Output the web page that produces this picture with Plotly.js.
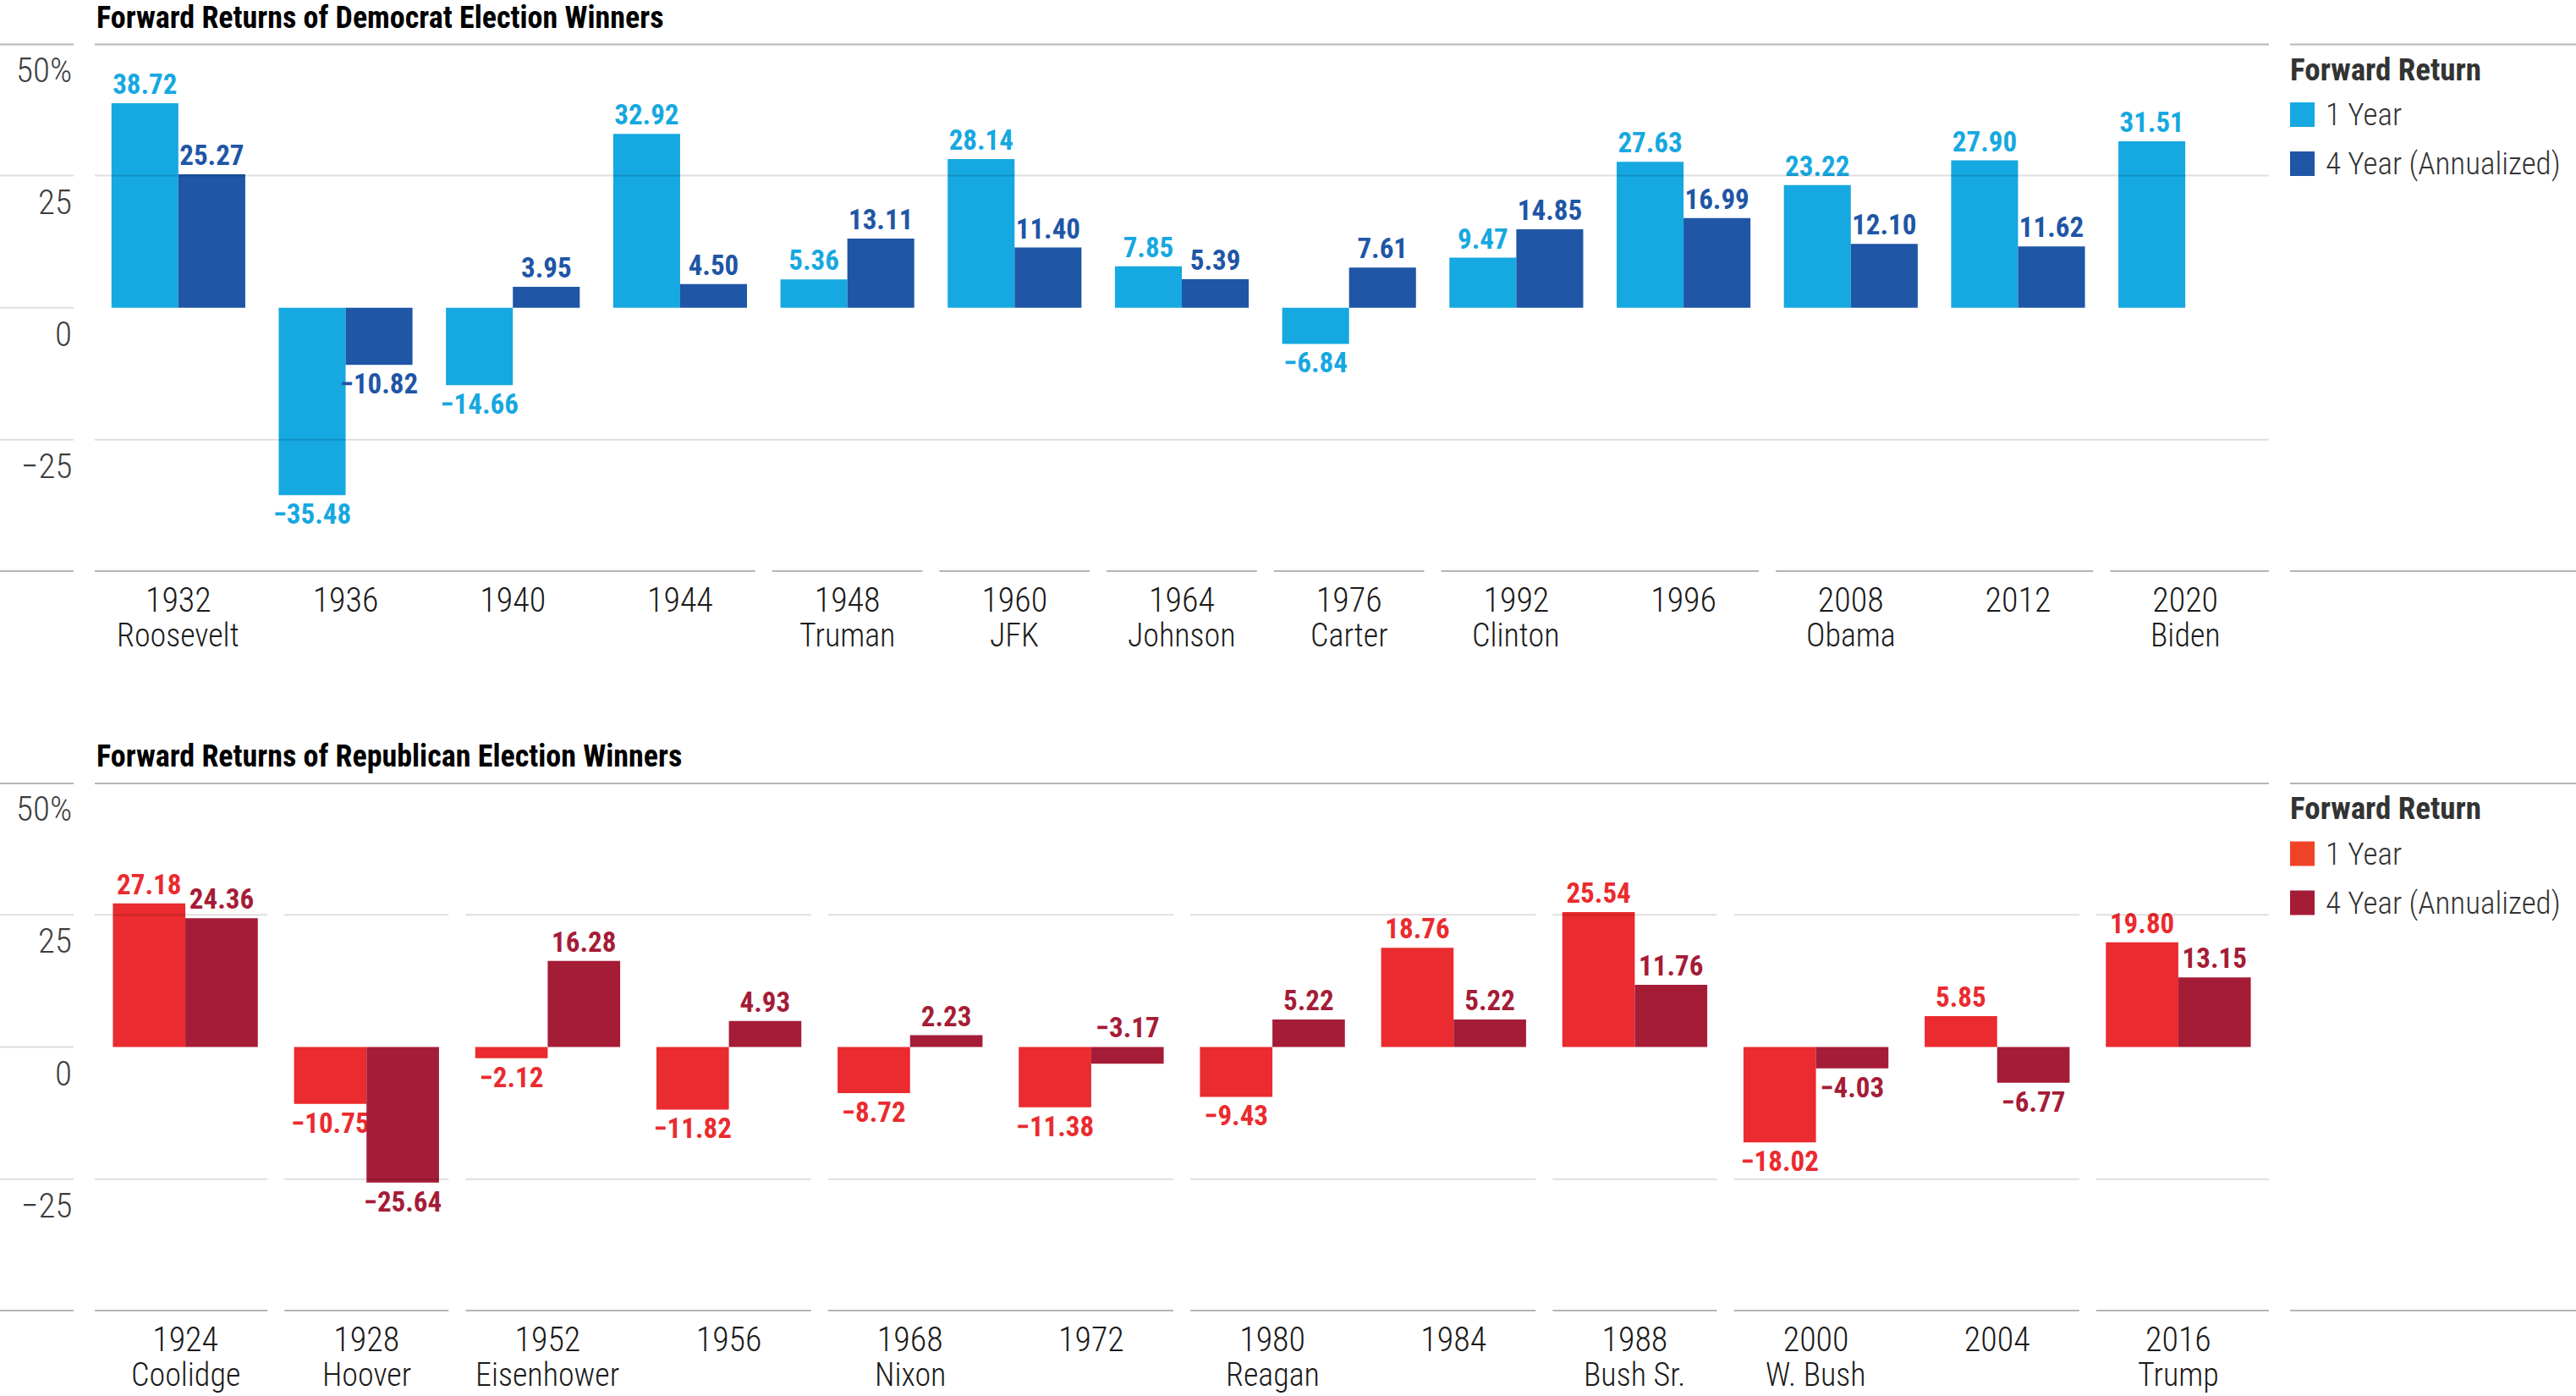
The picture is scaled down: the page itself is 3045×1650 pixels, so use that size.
<!DOCTYPE html>
<html>
<head>
<meta charset="utf-8">
<script src="https://cdn.plot.ly/plotly-3.0.1.min.js"></script>
<style>
html,body{margin:0;padding:0;background:#fff;}
#chart{width:3045px;height:1650px;}
</style>
</head>
<body>
<div id="chart"></div>
<script>
// ---------------- DATA ----------------
const demYears = ['1932','1936','1940','1944','1948','1960','1964','1976','1992','1996','2008','2012','2020'];
const demPresidents = ['Roosevelt','Roosevelt','Roosevelt','Roosevelt','Truman','JFK','Johnson','Carter','Clinton','Clinton','Obama','Obama','Biden'];
const demOneYear = [38.72,-35.48,-14.66,32.92,5.36,28.14,7.85,-6.84,9.47,27.63,23.22,27.90,31.51];
const demFourYear = [25.27,-10.82,3.95,4.50,13.11,11.40,5.39,7.61,14.85,16.99,12.10,11.62,null];

const repYears = ['1924','1928','1952','1956','1968','1972','1980','1984','1988','2000','2004','2016'];
const repPresidents = ['Coolidge','Hoover','Eisenhower','Eisenhower','Nixon','Nixon','Reagan','Reagan','Bush Sr.','W. Bush','W. Bush','Trump'];
const repOneYear = [27.18,-10.75,-2.12,-11.82,-8.72,-11.38,-9.43,18.76,25.54,-18.02,5.85,19.80];
const repFourYear = [24.36,-25.64,16.28,4.93,2.23,-3.17,5.22,5.22,11.76,-4.03,-6.77,13.15];
const repFourYearLabelAbove = ['1972'];   // label drawn above the zero edge in the original

const yTickVals = [50,25,0,-25];
const yTickText = ['50%','25','0','\u221225'];
const seriesNames = ['1 Year','4 Year (Annualized)'];
const legendTitle = 'Forward Return';
const titles = ['Forward Returns of Democrat Election Winners','Forward Returns of Republican Election Winners'];

// ---------------- STYLE ----------------
const W = 3045, H = 1650;
const FONT = "'Roboto Condensed', 'Open Sans', sans-serif";
const plotL = 112, plotR = 2682, labelR = 87, legL = 2707;
const panels = [{y0: 51.5, y1: 676}, {y0: 925, y1: 1550}];
const demColors = ['#16a8e0', '#1f56a6'];
const repColors = ['#ea2b2f', '#a51c37'];
const repLegendColors = ['#ef4327', '#a51c37'];
const thickColor = '#b4b5b9';
const gridColor = 'rgba(0,0,0,0.13)';
const LABEL_SIZE = 33;

const fmt = v => v === null ? '' : (v < 0 ? '\u2212' : '') + Math.abs(v).toFixed(2);
const isGroupStart = (pres, i) => i === 0 || pres[i] !== pres[i-1];
const py = px => 1 - px / H;
const pxX = px => px / W;

function barTrace(x, y, color, name, xa, ya, textArr) {
  return {
    type: 'bar', x: x, y: y, name: name, xaxis: xa, yaxis: ya,
    marker: {color: color, line: {width: 0}},
    text: textArr || y.map(fmt), textposition: 'outside', textangle: 0,
    constraintext: 'none', cliponaxis: false,
    textfont: {family: FONT, size: LABEL_SIZE, color: color, weight: 'bold'},
    outsidetextfont: {family: FONT, size: LABEL_SIZE, color: color, weight: 'bold'},
    hoverinfo: 'x+y', showlegend: false
  };
}

const rep4Text = repFourYear.map((v, i) => repFourYearLabelAbove.includes(repYears[i]) ? '' : fmt(v));

const data = [
  barTrace(demYears, demOneYear, demColors[0], seriesNames[0], 'x', 'y'),
  barTrace(demYears, demFourYear, demColors[1], seriesNames[1], 'x', 'y'),
  barTrace(repYears, repOneYear, repColors[0], seriesNames[0], 'x2', 'y2'),
  barTrace(repYears, repFourYear, repColors[1], seriesNames[1], 'x2', 'y2', rep4Text)
];

const shapes = [];
const annotations = [];
function hline(xref, x0, x1, yref, y, width, color, layer) {
  shapes.push({type: 'line', xref: xref, yref: yref, x0: x0, x1: x1, y0: y, y1: y,
    line: {color: color, width: width}, layer: layer || 'above'});
}
function segments(pres, xref, yref, y, width, color) {
  const n = pres.length;
  const catPx = (plotR - plotL) / n;
  const gap = 10 / catPx;
  let start = 0;
  for (let i = 0; i < n; i++) {
    if (i === n - 1 || pres[i+1] !== pres[i]) {
      const a = start - 0.5 + (start === 0 ? 0 : gap);
      const b = i + 0.5 - (i === n - 1 ? 0 : gap);
      hline(xref, a, b, yref, y, width, color);
      start = i + 1;
    }
  }
}

const panelDefs = [
  {xa: 'x', ya: 'y', pres: demPresidents, n: demYears.length, segGrid: false, legendColors: demColors},
  {xa: 'x2', ya: 'y2', pres: repPresidents, n: repYears.length, segGrid: true, legendColors: repLegendColors}
];

panelDefs.forEach((p, k) => {
  const n = p.n;
  const py0 = panels[k].y0, py1 = panels[k].y1;
  // top thick line (continuous)
  hline(p.xa, -0.5, n - 0.5, p.ya, 50, 4, thickColor);
  hline('paper', 0, pxX(labelR), p.ya, 50, 4, thickColor);
  hline('paper', pxX(legL), 1, p.ya, 50, 4, thickColor);
  // bottom thick line (segmented by president)
  segments(p.pres, p.xa, p.ya, -50, 4, thickColor);
  hline('paper', 0, pxX(labelR), p.ya, -50, 4, thickColor);
  hline('paper', pxX(legL), 1, p.ya, -50, 4, thickColor);
  // gridlines
  [25, -25].forEach(v => {
    if (p.segGrid) segments(p.pres, p.xa, p.ya, v, 2, gridColor);
    else hline(p.xa, -0.5, n - 0.5, p.ya, v, 2, gridColor);
  });
  [25, 0, -25].forEach(v => hline('paper', 0, pxX(labelR), p.ya, v, 2, gridColor));
  // y tick labels
  yTickVals.forEach((v, i) => {
    annotations.push({xref: 'paper', yref: p.ya, x: pxX(labelR), y: v, xanchor: 'right', yanchor: 'top',
      yshift: -5, text: yTickText[i], showarrow: false,
      font: {family: FONT, size: 41, color: '#3d3d3d', weight: 300}});
  });
  // president names under the first year of each group
  p.pres.forEach((name, i) => {
    if (isGroupStart(p.pres, i)) {
      annotations.push({xref: p.xa, yref: 'paper', x: i, y: py(py1 + 75), xanchor: 'center', yanchor: 'middle',
        borderpad: 0, text: name, showarrow: false,
        font: {family: FONT, size: 38, color: '#1a1a1a', weight: 300}});
    }
  });
  // panel title
  annotations.push({xref: 'paper', yref: 'paper', x: pxX(plotL), y: py(py0 - 31), xanchor: 'left', yanchor: 'middle',
    text: '<b>' + titles[k] + '</b>', showarrow: false, font: {family: FONT, size: 36, color: '#000'}});
  // legend
  annotations.push({xref: 'paper', yref: 'paper', x: pxX(legL - 2), y: py(py0 + 31), xanchor: 'left', yanchor: 'middle',
    text: '<b>' + legendTitle + '</b>', showarrow: false, font: {family: FONT, size: 37, color: '#333'}});
  [0, 1].forEach(j => {
    const cy = py0 + 84 + j * 58;
    shapes.push({type: 'rect', xref: 'paper', yref: 'paper', x0: pxX(legL), x1: pxX(legL + 29),
      y0: py(cy - 14.5), y1: py(cy + 14.5), fillcolor: p.legendColors[j], line: {width: 0}});
    annotations.push({xref: 'paper', yref: 'paper', x: pxX(legL + 40), y: py(cy), xanchor: 'left', yanchor: 'middle',
      text: seriesNames[j], showarrow: false, font: {family: FONT, size: 37, color: '#333', weight: 300}});
  });
});

// special label above the zero edge
const repCatPx = (plotR - plotL) / repYears.length;
repYears.forEach((yr, i) => {
  if (repFourYearLabelAbove.includes(yr)) {
    annotations.push({xref: 'x2', yref: 'y2', x: i, y: 0, xanchor: 'center', yanchor: 'bottom',
      xshift: 0.2 * repCatPx, yshift: 2, text: fmt(repFourYear[i]), showarrow: false,
      font: {family: FONT, size: LABEL_SIZE, color: repColors[1], weight: 'bold'}});
  }
});

function xaxis(years, anchor) {
  return {
    type: 'category', domain: [plotL / W, plotR / W], anchor: anchor,
    range: [-0.5, years.length - 0.5], tickvals: years, ticktext: years,
    showgrid: false, zeroline: false, showline: false,
    ticks: '', ticklabelstandoff: 6,
    tickfont: {family: FONT, size: 40, color: '#1a1a1a', weight: 300}, fixedrange: true
  };
}
function yaxis(domain, anchor) {
  return {domain: domain, anchor: anchor, range: [-50, 50], showgrid: false, zeroline: false,
    showline: false, showticklabels: false, ticks: '', fixedrange: true};
}

const layout = {
  width: W, height: H, margin: {l: 0, r: 0, t: 0, b: 0},
  paper_bgcolor: '#fff', plot_bgcolor: '#fff',
  barmode: 'group', bargap: 0.2, bargroupgap: 0,
  showlegend: false,
  xaxis: xaxis(demYears, 'y'),
  yaxis: yaxis([1 - panels[0].y1 / H, 1 - panels[0].y0 / H], 'x'),
  xaxis2: xaxis(repYears, 'y2'),
  yaxis2: yaxis([1 - panels[1].y1 / H, 1 - panels[1].y0 / H], 'x2'),
  shapes: shapes, annotations: annotations,
  font: {family: FONT}
};

Plotly.newPlot('chart', data, layout, {staticPlot: true, displayModeBar: false});
</script>
</body>
</html>
